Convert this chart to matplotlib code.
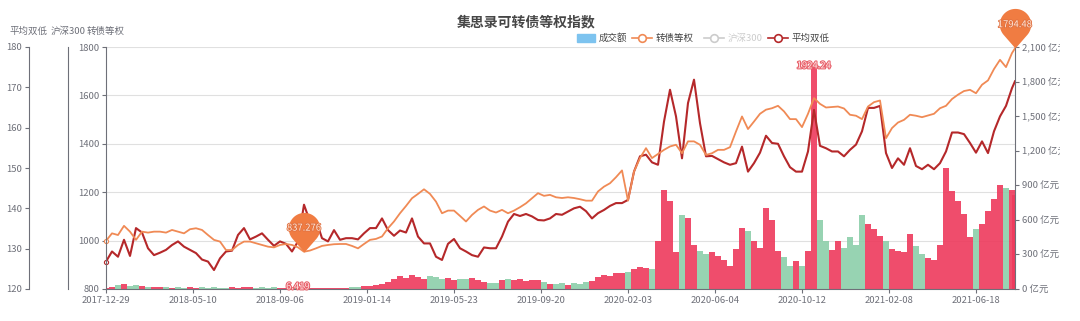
import numpy as np
import matplotlib
matplotlib.use('Agg')
import matplotlib.pyplot as plt
from matplotlib.path import Path
from matplotlib.lines import Line2D
from matplotlib.patches import Rectangle
import matplotlib.patheffects as pe

plt.rcParams['font.family'] = ['Noto Sans CJK SC', 'DejaVu Sans']

title = '集思录可转债等权指数'
date_labels = ['2017-12-29', '2018-05-10', '2018-09-06', '2019-01-14', '2019-05-23',
               '2019-09-20', '2020-02-03', '2020-06-04', '2020-10-12', '2021-02-08', '2021-06-18']
label_every = 87   # trading days between two date labels
n_days = 910

# sampled trading days (about one point a week)
day_idx = list(range(0, 907, 6)) + [909]

# 转债等权 (left axis)
cb_index = [999, 1030, 1023, 1061, 1037, 1003, 1037, 1033, 1037, 1037,
            1033, 1044, 1037, 1030, 1047, 1051, 1044, 1023, 1003, 996,
            961, 961, 982, 996, 996, 989, 982, 975, 972, 982,
            986, 982, 972, 954, 959, 968, 978, 982, 985, 986,
            986, 978, 968, 986, 1003, 1007, 1017, 1051, 1079, 1113,
            1143, 1175, 1193, 1212, 1193, 1161, 1113, 1124, 1124, 1102,
            1079, 1106, 1127, 1141, 1124, 1116, 1127, 1113, 1124, 1138,
            1154, 1175, 1196, 1185, 1189, 1179, 1176, 1179, 1176, 1171,
            1165, 1165, 1203, 1223, 1237, 1262, 1290, 1165, 1285, 1341,
            1382, 1341, 1358, 1375, 1389, 1396, 1361, 1410, 1410, 1396,
            1354, 1361, 1375, 1375, 1386, 1451, 1513, 1461, 1492, 1524,
            1541, 1547, 1557, 1534, 1502, 1502, 1469, 1524, 1589, 1565,
            1550, 1552, 1554, 1546, 1520, 1516, 1502, 1554, 1572, 1579,
            1423, 1465, 1488, 1499, 1520, 1516, 1510, 1517, 1524, 1547,
            1557, 1585, 1603, 1618, 1623, 1609, 1644, 1662, 1709, 1747,
            1717, 1775, 1794.48]

# 平均双低 (far left axis)
double_low = [126.8, 129.3, 128.0, 132.2, 128.2, 135.1, 134.0, 130.1, 128.4, 129.0,
              129.7, 130.9, 131.8, 130.5, 129.7, 128.9, 127.3, 126.8, 124.7, 127.6,
              129.3, 129.5, 133.4, 135.1, 132.3, 133.0, 133.8, 132.2, 130.7, 131.8,
              131.2, 129.3, 131.8, 140.9, 136.7, 137.1, 132.6, 131.8, 134.6, 132.2,
              132.6, 132.6, 132.3, 133.8, 135.1, 135.1, 137.5, 134.6, 133.2, 134.5,
              134.0, 137.5, 133.0, 131.3, 131.3, 128.0, 127.2, 131.2, 132.4, 130.1,
              129.3, 128.4, 128.0, 130.3, 130.1, 130.1, 133.0, 136.7, 138.6, 138.1,
              138.6, 138.0, 137.1, 137.0, 137.5, 138.6, 138.4, 139.2, 140.0, 140.4,
              139.3, 137.5, 138.8, 139.6, 140.6, 141.3, 141.3, 142.1, 149.1, 152.9,
              153.3, 151.4, 150.8, 161.5, 169.4, 162.8, 152.4, 166.1, 171.9, 161.1,
              152.9, 153.0, 152.2, 151.4, 150.8, 151.2, 155.3, 149.1, 151.2, 153.8,
              158.0, 156.2, 156.0, 152.9, 150.2, 149.1, 149.1, 154.1, 164.4, 155.5,
              154.9, 154.1, 154.1, 152.9, 154.5, 155.8, 159.1, 164.9, 164.9, 165.4,
              153.7, 150.0, 152.4, 150.8, 154.9, 150.5, 149.7, 150.8, 149.7, 151.2,
              154.1, 158.8, 158.8, 158.4, 156.2, 153.8, 156.6, 153.7, 159.1, 162.8,
              165.4, 169.8, 171.5]

# 成交额, 亿元 (right axis)
turnover = [12, 18, 35, 45, 30, 38, 28, 20, 15, 18,
            14, 12, 15, 12, 14, 10, 16, 12, 14, 10,
            12, 15, 12, 18, 14, 12, 16, 12, 14, 10,
            9, 8, 6.419, 9, 12, 10, 12, 9, 11, 13,
            10, 14, 18, 22, 30, 35, 45, 60, 85, 110,
            95, 120, 105, 90, 115, 100, 85, 95, 80, 90,
            85, 95, 75, 60, 50, 55, 80, 85, 75, 90,
            70, 80, 75, 65, 45, 40, 55, 35, 50, 45,
            60, 70, 100, 120, 110, 135, 140, 150, 175, 190,
            185, 170, 420, 860, 760, 320, 640, 620, 380, 330,
            300, 320, 290, 250, 200, 350, 530, 500, 420, 360,
            700, 600, 330, 280, 200, 240, 200, 330, 1924.236, 600,
            420, 340, 420, 360, 450, 380, 640, 560, 520, 460,
            420, 350, 330, 320, 480, 370, 300, 270, 250, 380,
            1050, 850, 760, 650, 450, 520, 560, 680, 780, 900,
            880, 860, 820]

orange = '#f08a55'
darkred = '#b5282a'
pin_col = '#f07c42'
axis_c = '#6e7079'

W, H = 1080, 321
L, R, T, B = 106, 1015, 47, 289
fig = plt.figure(figsize=(W / 100, H / 100), dpi=100)
ax_v = fig.add_axes([L / W, 1 - B / H, (R - L) / W, (B - T) / H])
ax_h = ax_v.twinx()
ax_d = ax_v.twinx()
ax_o = ax_v.twinx()

for a in (ax_v, ax_h, ax_d, ax_o):
    for s in a.spines.values():
        s.set_visible(False)
ax_v.set_xlim(0, n_days - 1)

# volume axis (right)
ax_v.set_ylim(0, 2100)
ax_v.yaxis.tick_right()
ticks_v = list(range(0, 2101, 300))
ax_v.set_yticks(ticks_v)
ax_v.set_yticklabels([f'{v:,} 亿元' for v in ticks_v])
ax_v.spines['right'].set_visible(True)
ax_v.spines['bottom'].set_visible(True)
ax_v.spines['right'].set_color(axis_c)
ax_v.spines['bottom'].set_color(axis_c)
ax_v.set_xticks([i * label_every for i in range(len(date_labels))])
ax_v.set_xticklabels(date_labels)
ax_v.tick_params(axis='both', length=3, width=0.8, color=axis_c, labelcolor=axis_c,
                 labelsize=6.8, pad=2)

# 转债等权 axis
ax_o.set_ylim(800, 1800)
ax_o.yaxis.tick_left()
ax_o.set_yticks(range(800, 1801, 200))
ax_o.spines['left'].set_visible(True)
ax_o.spines['left'].set_color(axis_c)

# 平均双低 axis, far left
ax_d.set_ylim(120, 180)
ax_d.yaxis.tick_left()
ax_d.set_yticks(range(120, 181, 10))
ax_d.spines['left'].set_visible(True)
ax_d.spines['left'].set_color(axis_c)
ax_d.spines['left'].set_position(('axes', (29 - L) / (R - L)))

# 沪深300 axis (series switched off, only the line)
ax_h.set_yticks([])
ax_h.spines['left'].set_visible(True)
ax_h.spines['left'].set_color(axis_c)
ax_h.spines['left'].set_position(('axes', (68 - L) / (R - L)))

for a in (ax_o, ax_d):
    a.tick_params(axis='y', length=3, width=0.8, color=axis_c, labelcolor=axis_c,
                  labelsize=6.8, pad=2)

# grid lines follow the 转债等权 ticks
for t in range(1000, 1801, 200):
    ax_v.axhline((t - 800) / 1000 * 2100, color='#e0e0e0', lw=0.8, zorder=0)

up = np.diff(np.r_[cb_index[0], cb_index]) >= 0
bar_cols = np.where(up, '#ee3a5c', '#8ccfaa')
ax_v.bar(day_idx, turnover, width=5.6, color=bar_cols, alpha=0.9, lw=0, zorder=2)

ax_d.plot(day_idx, double_low, color=darkred, lw=1.5)
ax_d.plot(day_idx[0], double_low[0], 'o', ms=3, mfc='white', mec=darkred, mew=0.8, clip_on=False)
ax_o.plot(day_idx, cb_index, color=orange, lw=1.3)
ax_o.plot(day_idx[0], cb_index[0], 'o', ms=3, mfc='white', mec=orange, mew=0.8, clip_on=False)

# pin markers
th = np.radians(np.linspace(-41, 221, 60))
verts = np.column_stack([1.15 * np.cos(th), 1.75 + 1.15 * np.sin(th)])
verts = np.vstack([[0, 0], verts, [0, 0]])
pin = Path(verts, closed=True)

i_max = int(np.argmax(cb_index))
i_min = int(np.argmin(cb_index))
pin_txt = ['1794.48', '837.276']
for i, txt in zip((i_max, i_min), pin_txt):
    ax_o.plot(day_idx[i], cb_index[i], marker=pin, ms=57, color=pin_col, mec='none',
              clip_on=False, zorder=5)
    ax_o.annotate(txt, (day_idx[i], cb_index[i]), xytext=(0, 17), textcoords='offset points',
                  ha='center', va='center', fontsize=6.8, color='#fde6d8', zorder=6,
                  path_effects=[pe.withStroke(linewidth=1.2, foreground='#e07040')],
                  annotation_clip=False)

# turnover max / min labels
j_max = int(np.argmax(turnover))
j_min = int(np.argmin(turnover))
for j in (j_max, j_min):
    ax_v.annotate(f'{turnover[j]:g}', (day_idx[j], turnover[j]), xytext=(0, 1),
                  textcoords='offset points', ha='center', va='center', fontsize=6.8,
                  color='#fde3e3', zorder=6,
                  path_effects=[pe.withStroke(linewidth=1.5, foreground='#e8606a')],
                  annotation_clip=False)

# titles and axis names
fig.text(526 / W, 1 - 22 / H, title, ha='center', va='center', fontsize=10,
         fontweight='bold', color='#464646')
for x, name in [(29, '平均双低'), (68, '沪深300'), (106, '转债等权')]:
    fig.text(x / W, 1 - 31 / H, name, ha='center', va='center', fontsize=6.8, color=axis_c)

# legend
ly = 1 - 38 / H
fig.add_artist(Rectangle((577 / W, 1 - 42 / H), 18 / W, 8 / H, color='#7dc3ef',
                         transform=fig.transFigure))
fig.text(599 / W, ly, '成交额', ha='left', va='center', fontsize=6.8, color='#444')
legend_items = [(632, orange, '转债等权', '#444'),
                (704, '#cccccc', '沪深300', '#cccccc'),
                (768, darkred, '平均双低', '#444')]
for x0, col, txt, tcol in legend_items:
    fig.add_artist(Line2D([x0 / W, (x0 + 20) / W], [ly, ly], color=col, lw=1.2,
                          transform=fig.transFigure))
    fig.add_artist(Line2D([(x0 + 10) / W], [ly], marker='o', ms=5.5, mfc='white', mec=col,
                          mew=1.2, transform=fig.transFigure))
    fig.text((x0 + 24) / W, ly, txt, ha='left', va='center', fontsize=6.8, color=tcol)

# canvas ends before the figure edge, right labels get cut there
fig.add_artist(Rectangle((1060 / W, 0), 20 / W, 1, color='white', zorder=10,
                         transform=fig.transFigure))

fig.savefig('out.png', dpi=100)
